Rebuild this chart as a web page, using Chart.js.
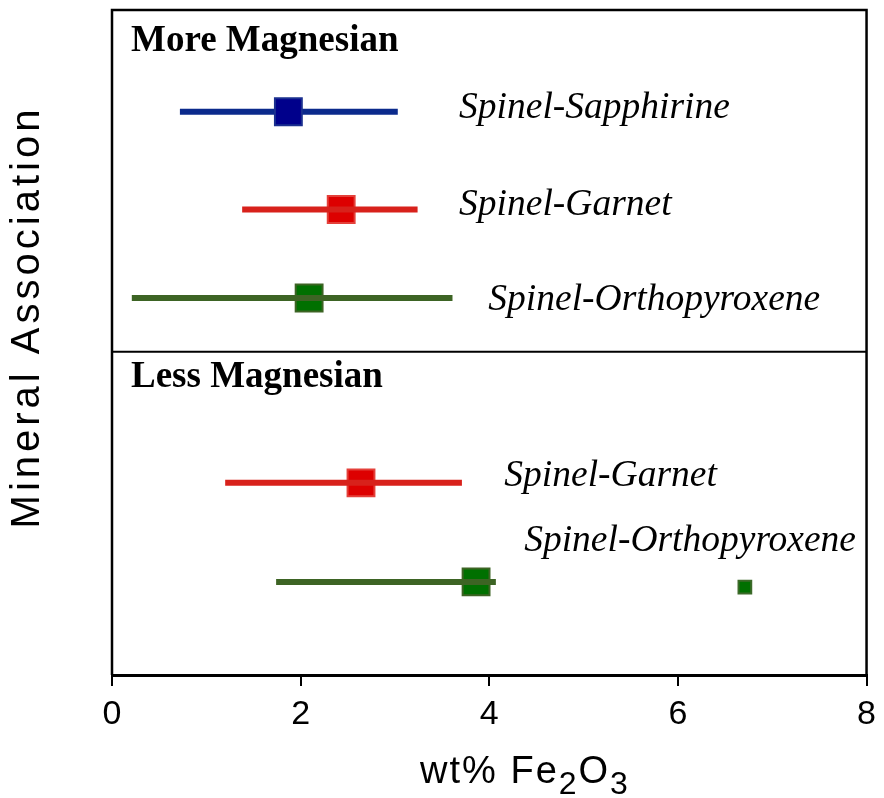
<!DOCTYPE html>
<html>
<head>
<meta charset="utf-8">
<script src="https://cdn.jsdelivr.net/npm/chart.js@4/dist/chart.umd.min.js"></script>
<style>
  html, body { margin: 0; padding: 0; background: #fff; }
  #wrap { width: 884px; height: 798px; }
</style>
</head>
<body>
<div id="wrap"><canvas id="fe2o3Chart"></canvas></div>
<script>
// Fe2O3 ranges per mineral association (wt%)
const associations = ['Spinel-Sapphirine', 'Spinel-Garnet', 'Spinel-Orthopyroxene', 'Spinel-Garnet', 'Spinel-Orthopyroxene'];
const groupOfRow = ['More Magnesian', 'More Magnesian', 'More Magnesian', 'Less Magnesian', 'Less Magnesian'];
const meanFe2O3 = [1.87, 2.43, 2.09, 2.64, 3.86];
const minFe2O3 = [0.72, 1.38, 0.21, 1.20, 1.74];
const maxFe2O3 = [3.03, 3.24, 3.61, 3.71, 4.07];
// single analysis off to the right of the less magnesian Spl-Opx range
const outlierFe2O3 = [6.71];
const xTickValues = [0, 2, 4, 6, 8];
const groupNames = ['More Magnesian', 'Less Magnesian'];

// vertical layout on a 0-100 hidden scale
const rowLevels = [84.7, 70, 56.7, 28.9, 14];
const outlierLevel = 13.2;
const dividerLevel = 48.6;
const groupLevels = [95.2, 44.7];
const labelAt = [[3.68, 85.3], [3.68, 70.7], [3.99, 56.4], [4.16, 29.9], [4.37, 20.2]];

const lineColors = ['#0b2a8c', '#d8211b', '#3d6424', '#d8211b', '#3d6424'];
const boxFill = ['#00008b', '#dd0000', '#007000', '#dd0000', '#007000'];
const boxEdge = ['#1a2f8f', '#e4403a', '#3d6424', '#e4403a', '#3d6424'];

const datasets = [];
associations.forEach((name, i) => {
  datasets.push({
    label: name + ' range',
    data: [{ x: minFe2O3[i], y: rowLevels[i] }, { x: maxFe2O3[i], y: rowLevels[i] }],
    showLine: true,
    borderColor: lineColors[i],
    borderWidth: 6,
    borderCapStyle: 'butt',
    pointRadius: 0,
    order: i === 0 ? 2 : 1
  });
  datasets.push({
    label: name + ' mean',
    data: [{ x: meanFe2O3[i], y: rowLevels[i] }],
    pointStyle: 'rect',
    pointRadius: 19,
    backgroundColor: boxFill[i],
    borderColor: boxEdge[i],
    borderWidth: 2,
    order: i === 0 ? 1 : 2
  });
});
datasets.push({
  label: 'Spinel-Orthopyroxene outlier',
  data: outlierFe2O3.map(v => ({ x: v, y: outlierLevel })),
  pointStyle: 'rect',
  pointRadius: 9,
  backgroundColor: '#007000',
  borderColor: '#3d6a2a',
  borderWidth: 2
});

// frame, divider, text annotations and axis titles
const decorations = {
  id: 'decorations',
  afterDraw(chart) {
    const { ctx, chartArea: a, scales: { x, y } } = chart;
    ctx.save();
    ctx.strokeStyle = '#000';
    ctx.lineWidth = 2.5;
    ctx.beginPath();
    ctx.moveTo(a.left, a.bottom);
    ctx.lineTo(a.left, a.top);
    ctx.lineTo(a.right, a.top);
    ctx.lineTo(a.right, a.bottom);
    ctx.stroke();

    ctx.lineWidth = 2;
    ctx.beginPath();
    ctx.moveTo(a.left, y.getPixelForValue(dividerLevel));
    ctx.lineTo(a.right, y.getPixelForValue(dividerLevel));
    ctx.stroke();

    ctx.fillStyle = '#000';
    ctx.textBaseline = 'middle';
    ctx.textAlign = 'left';
    ctx.font = 'bold 37px "Liberation Serif"';
    groupNames.forEach((g, i) => {
      ctx.fillText(g, a.left + 19, y.getPixelForValue(groupLevels[i]));
    });
    ctx.font = 'italic 37.5px "Liberation Serif"';
    associations.forEach((name, i) => {
      ctx.fillText(name, x.getPixelForValue(labelAt[i][0]), y.getPixelForValue(labelAt[i][1]));
    });

    // y title
    ctx.save();
    ctx.translate(28, 317);
    ctx.rotate(-Math.PI / 2);
    ctx.textAlign = 'center';
    ctx.font = '40px "Liberation Sans"';
    ctx.letterSpacing = '4px';
    ctx.fillText('Mineral Association', 0, 0);
    ctx.restore();

    // x title with subscripts
    const parts = [['wt% Fe', 0], ['2', 1], ['O', 0], ['3', 1]];
    const bigFont = '38px "Liberation Sans"';
    const subFont = '32px "Liberation Sans"';
    ctx.letterSpacing = '2px';
    let total = 0;
    parts.forEach(p => { ctx.font = p[1] ? subFont : bigFont; total += ctx.measureText(p[0]).width; });
    let cx = 525 - total / 2;
    const baseY = 783;
    ctx.textBaseline = 'alphabetic';
    parts.forEach(p => {
      ctx.font = p[1] ? subFont : bigFont;
      ctx.fillText(p[0], cx, baseY + (p[1] ? 11 : 0));
      cx += ctx.measureText(p[0]).width;
    });
    ctx.restore();
  }
};

new Chart(document.getElementById('fe2o3Chart'), {
  type: 'scatter',
  data: { datasets: datasets },
  options: {
    responsive: true,
    maintainAspectRatio: false,
    animation: false,
    events: [],
    layout: { autoPadding: false, padding: { left: 112, top: 10, right: 14, bottom: 0 } },
    plugins: { legend: { display: false }, tooltip: { enabled: false } },
    scales: {
      x: {
        type: 'linear',
        min: 0,
        max: 8,
        afterBuildTicks: s => { s.ticks = xTickValues.map(v => ({ value: v })); },
        afterFit: s => { s.height = 123; },
        ticks: {
          color: '#000',
          padding: 8,
          font: { family: '"Liberation Sans"', size: 34 }
        },
        grid: { drawOnChartArea: false, drawTicks: true, tickLength: 11, color: '#000', lineWidth: 2 },
        border: { display: true, color: '#000', width: 3 }
      },
      y: {
        type: 'linear',
        min: 0,
        max: 100,
        display: false
      }
    }
  },
  plugins: [decorations]
});
</script>
</body>
</html>
